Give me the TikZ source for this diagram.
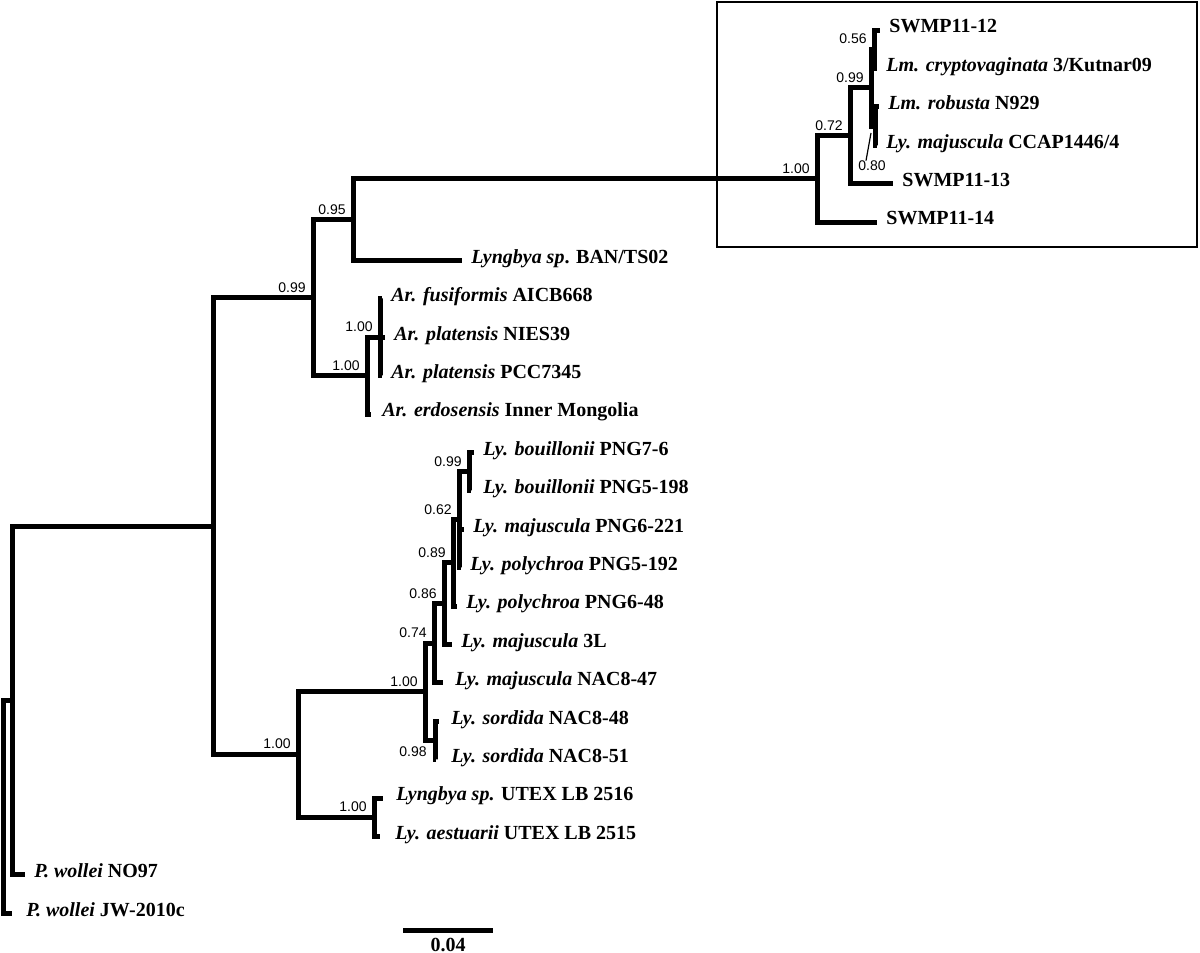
\documentclass[tikz,border=0pt]{standalone}
\usepackage{fontspec}
\setmainfont{Liberation Serif}
\newfontfamily\supfont{Liberation Sans}
\usepackage{tikz}
\usetikzlibrary{positioning}
\definecolor{ink}{HTML}{000000}
\definecolor{paper}{HTML}{FFFFFF}
\begin{document}
\begin{tikzpicture}[x=0.5pt,y=-0.5pt, br/.style={draw=ink,line width=2.5pt}, tx/.style={anchor=mid west,inner sep=0pt,xshift=4.5pt,yshift=0.8pt,font=\fontsize{10}{12}\selectfont\bfseries}, bs/.style={anchor=south east,inner sep=0pt,xshift=-3.5pt,yshift=2.5pt,font=\supfont\fontsize{7}{8}\selectfont}, bsb/.style={anchor=north east,inner sep=0pt,xshift=-4pt,yshift=-3pt,font=\supfont\fontsize{7}{8}\selectfont}]
\fill[paper] (0,0) rectangle (1200,953);
\useasboundingbox (0,0) rectangle (1200,953);
\coordinate (r0) at (3,806.8); \coordinate (r1) at (12,700.4); \coordinate (n213) at (213,526);
\coordinate (n99) at (313,297.6); \coordinate (n95) at (353,219.6); \coordinate (nbox) at (817,178.8);
\coordinate (n72) at (850,135.6); \coordinate (n99b) at (871,87.6); \coordinate (n56) at (874,49.2); \coordinate (n80) at (875,126);
\coordinate (nAr1) at (367,375.6); \coordinate (nAr2) at (380,337.2);
\coordinate (nL) at (298,754.5); \coordinate (nL1) at (425,691.8); \coordinate (n74) at (434,643.2); \coordinate (n86) at (444,603.6);
\coordinate (n89) at (453,562.8); \coordinate (n62) at (459,519.6); \coordinate (n99c) at (469,471.6); \coordinate (n98) at (435,740.4); \coordinate (nU) at (374,817.2);
\coordinate (sw12) at (880,30); \coordinate (lmc) at (877,68.4); \coordinate (lmr) at (879,106.8); \coordinate (lyc) at (877,145.2);
\coordinate (sw13) at (893,183.6); \coordinate (sw14) at (877,222); \coordinate (ban) at (462,260.4);
\coordinate (afu) at (382,298.8); \coordinate (apn) at (385,337.2); \coordinate (app) at (382,375.6); \coordinate (aer) at (371,414);
\coordinate (lb7) at (474,452.4); \coordinate (lb5) at (471,490.8); \coordinate (lm621) at (464,529.2); \coordinate (lp192) at (461,567.6);
\coordinate (lp48) at (457,606); \coordinate (lm3l) at (452,644.4); \coordinate (lm847) at (443,682.8); \coordinate (ls48) at (439,721.2);
\coordinate (ls51) at (436,759.6); \coordinate (u2516) at (383,798); \coordinate (u2515) at (380,836.4); \coordinate (no97) at (25,874.8); \coordinate (jw) at (12,913.2);
\draw[br] (r0) |- (r1); \draw[br] (r0) |- (jw); \draw[br] (r1) |- (n213); \draw[br] (r1) |- (no97);
\draw[br] (n213) |- (n99); \draw[br] (n213) |- (nL); \draw[br] (n99) |- (n95); \draw[br] (n99) |- (nAr1);
\draw[br] (n95) |- (nbox); \draw[br] (n95) |- (ban); \draw[br] (nbox) |- (n72); \draw[br] (nbox) |- (sw14);
\draw[br] (n72) |- (n99b); \draw[br] (n72) |- (sw13); \draw[br] (n99b) |- (n56); \draw[br] (n99b) |- (n80);
\draw[br] (n56) |- (sw12); \draw[br] (n56) |- (lmc); \draw[br] (n80) |- (lmr); \draw[br] (n80) |- (lyc);
\draw[br] (nAr1) |- (nAr2); \draw[br] (nAr1) |- (aer); \draw[br] (nAr2) |- (afu); \draw[br] (nAr2) |- (apn); \draw[br] (nAr2) |- (app);
\draw[br] (nL) |- (nL1); \draw[br] (nL) |- (nU); \draw[br] (nL1) |- (n74); \draw[br] (nL1) |- (n98);
\draw[br] (n74) |- (n86); \draw[br] (n74) |- (lm847); \draw[br] (n86) |- (n89); \draw[br] (n86) |- (lm3l);
\draw[br] (n89) |- (n62); \draw[br] (n89) |- (lp48); \draw[br] (n62) |- (n99c); \draw[br] (n62) |- (lm621); \draw[br] (n62) |- (lp192);
\draw[br] (n99c) |- (lb7); \draw[br] (n99c) |- (lb5); \draw[br] (n98) |- (ls48); \draw[br] (n98) |- (ls51);
\draw[br] (nU) |- (u2516); \draw[br] (nU) |- (u2515);
\node[tx] (lsw12) at (sw12) {SWMP11-12};
\node[tx] (llmc) at (lmc) {\textit{Lm. cryptovaginata} 3/Kutnar09};
\node[tx] (llmr) at (lmr) {\textit{Lm. robusta} N929};
\node[tx] (llyc) at (lyc) {\textit{Ly. majuscula} CCAP1446/4};
\node[tx] (lsw13) at (sw13) {SWMP11-13};
\node[tx] (lsw14) at (sw14) {SWMP11-14};
\node[tx] (lban) at (ban) {\textit{Lyngbya sp}. BAN/TS02};
\node[tx] (lafu) at (afu) {\textit{Ar. fusiformis} AICB668};
\node[tx] (lapn) at (apn) {\textit{Ar. platensis} NIES39};
\node[tx] (lapp) at (app) {\textit{Ar. platensis} PCC7345};
\node[tx,xshift=1pt] (laer) at (aer) {\textit{Ar. erdosensis} Inner Mongolia};
\node[tx] (llb7) at (lb7) {\textit{Ly. bouillonii} PNG7-6};
\node[tx,xshift=1.5pt] (llb5) at (lb5) {\textit{Ly. bouillonii} PNG5-198};
\node[tx] (llm621) at (lm621) {\textit{Ly. majuscula} PNG6-221};
\node[tx] (llp192) at (lp192) {\textit{Ly. polychroa} PNG5-192};
\node[tx] (llp48) at (lp48) {\textit{Ly. polychroa} PNG6-48};
\node[tx] (llm3l) at (lm3l) {\textit{Ly. majuscula} 3L};
\node[tx,xshift=1.5pt] (llm847) at (lm847) {\textit{Ly. majuscula} NAC8-47};
\node[tx,xshift=1.5pt] (lls48) at (ls48) {\textit{Ly. sordida} NAC8-48};
\node[tx,xshift=3pt] (lls51) at (ls51) {\textit{Ly. sordida} NAC8-51};
\node[tx,xshift=2pt] (lu2516) at (u2516) {\textit{Lyngbya sp.} UTEX LB 2516};
\node[tx,xshift=3pt] (lu2515) at (u2515) {\textit{Ly. aestuarii} UTEX LB 2515};
\node[tx] (lno97) at (no97) {\textit{P. wollei} NO97};
\node[tx,xshift=2.5pt] (ljw) at (jw) {\textit{P. wollei} JW-2010c};
\node[bs] (b99) at (n99) {0.99}; \node[bs] (b95) at (n95) {0.95}; \node[bs] (bbox) at (nbox) {1.00};
\node[bs] (b72) at (n72) {0.72}; \node[bs] (b99b) at (n99b) {0.99}; \node[bs] (b56) at (n56) {0.56};
\node[bs] (bAr1) at (nAr1) {1.00}; \node[bs] (bAr2) at (nAr2) {1.00};
\node[bs] (bL) at (nL) {1.00}; \node[bs] (bL1) at (nL1) {1.00}; \node[bs] (b74) at (n74) {0.74}; \node[bs] (b86) at (n86) {0.86};
\node[bs] (b89) at (n89) {0.89}; \node[bs] (b62) at (n62) {0.62}; \node[bs] (b99c) at (n99c) {0.99}; \node[bs] (bU) at (nU) {1.00};
\node[bsb] (b98) at (n98) {0.98};
\node[inner sep=0pt,font=\supfont\fontsize{7}{8}\selectfont] (b80) at (872,166) {0.80};
\coordinate (a80) at (871,133);
\draw[draw=ink,line width=0.6pt] ([xshift=-3pt]b80.north) -- (a80);
\coordinate (bx1) at (717,2); \coordinate (bx2) at (1197,247);
\draw[draw=ink,line width=1.3pt] (bx1) rectangle (bx2);
\coordinate (s1) at (403,930); \coordinate (s2) at (493,930);
\draw[br] (s1) -- (s2);
\path (s1) -- (s2) node[midway,below=4pt,inner sep=0pt,font=\fontsize{10}{12}\selectfont\bfseries] (sl) {0.04};
\end{tikzpicture}
\end{document}
